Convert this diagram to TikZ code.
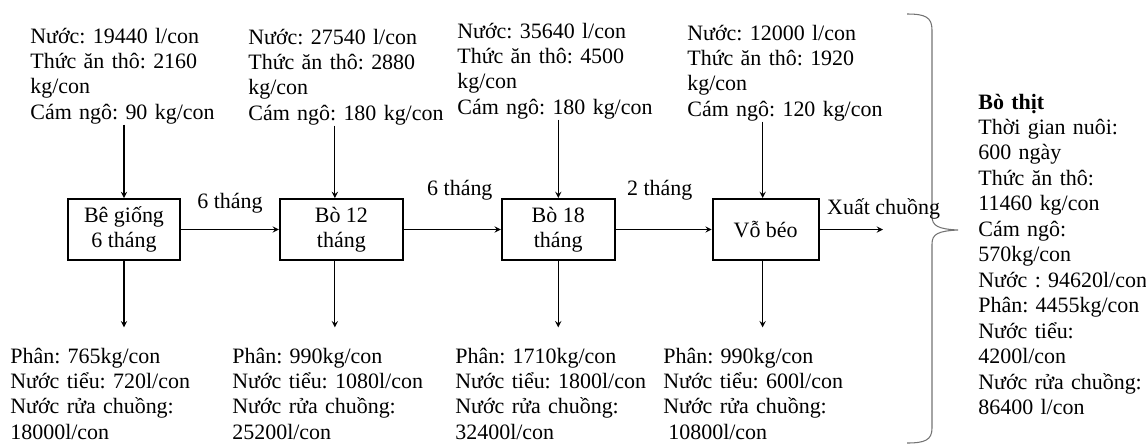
\documentclass[tikz,border=0pt]{standalone}
\usepackage{fontspec}
\setmainfont{Liberation Serif}
\frenchspacing
\usetikzlibrary{arrows.meta, positioning, calc}

\begin{document}
\begin{tikzpicture}[
        x=0.02cm, y=-0.02cm,
        >=stealth,
        node distance=1.95cm,
        every node/.style={font=\fontsize{12.5}{14.5}\selectfont},
        stage/.style={draw, line width=1.1pt, minimum height=1.22cm,
            align=center, inner sep=0pt},
        info/.style={text width=4.2cm, align=left, inner sep=0pt,
            anchor=base west},
        line/.style={draw, line width=0.6pt, ->},
        lbl/.style={inner sep=0pt},
    ]
    \useasboundingbox (0,0) rectangle (1146,447);

    % 1. Stages
    \node[stage, minimum width=2.24cm] at (124,229.5) (calf)
        {Bê giống\\6 tháng};
    \node[stage, minimum width=2.46cm, right=1.96cm of calf] (bo12)
        {Bò 12\\tháng};
    \node[stage, minimum width=2.26cm, right=1.94cm of bo12] (bo18)
        {Bò 18\\tháng};
    \node[stage, minimum width=2.12cm, right=1.92cm of bo18] (fatten)
        {Vỗ béo};
    \coordinate (exit) at (883,229.5);

    % 2. Inputs (top)
    \node[info] at (30,43) (in_calf)
        {Nước: 19440 l/con\\Thức ăn thô: 2160\\kg/con\\Cám ngô: 90 kg/con};
    \node[info] at (248,44) (in_bo12)
        {Nước: 27540 l/con\\Thức ăn thô: 2880\\kg/con\\Cám ngô: 180 kg/con};
    \node[info] at (457,38) (in_bo18)
        {Nước: 35640 l/con\\Thức ăn thô: 4500\\kg/con\\Cám ngô: 180 kg/con};
    \node[info] at (687,40) (in_fat)
        {Nước: 12000 l/con\\Thức ăn thô: 1920\\kg/con\\Cám ngô: 120 kg/con};

    % 3. Wastes (bottom)
    \node[info] at (10,363) (out_calf)
        {Phân: 765kg/con\\Nước tiểu: 720l/con\\Nước rửa chuồng:\\18000l/con};
    \node[info] at (232,363) (out_bo12)
        {Phân: 990kg/con\\Nước tiểu: 1080l/con\\Nước rửa chuồng:\\25200l/con};
    \node[info] at (455,363) (out_bo18)
        {Phân: 1710kg/con\\Nước tiểu: 1800l/con\\Nước rửa chuồng:\\32400l/con};
    \node[info] at (663,363) (out_fat)
        {Phân: 990kg/con\\Nước tiểu: 600l/con\\Nước rửa chuồng:\\\hspace*{1mm}10800l/con};

    % 4. Summary
    \node[info] at (978,109) (meat)
        {\textbf{Bò thịt}\\Thời gian nuôi:\\600 ngày\\Thức ăn thô:\\11460 kg/con\\Cám ngô:\\570kg/con\\Nước : 94620l/con\\Phân: 4455kg/con\\Nước tiểu:\\4200l/con\\Nước rửa chuồng:\\86400 l/con};
    \draw[black!55, line width=0.6pt]
        (907,14) .. controls (925,14) and (932,17) .. (932,30)
        -- (932,216) .. controls (932,226) and (938,229) .. (958,230)
        .. controls (938,231) and (932,234) .. (932,244)
        -- (932,428) .. controls (932,440) and (925,443) .. (907,443);

    % --- Arrows ---
    \path[line] (calf.north |- in_calf.south) -- (calf.north);
    \path[line] ([xshift=-0.13cm]bo12.north |- in_bo12.south) -- ([xshift=-0.13cm]bo12.north);
    \path[line] (bo18.north |- in_bo18.south) -- (bo18.north);
    \path[line] ([xshift=-0.06cm]fatten.north |- in_fat.south) -- ([xshift=-0.06cm]fatten.north);

    \path[line, shorten >=0.4cm] (calf.south) -- (calf.south |- out_calf.north);
    \path[line, shorten >=0.4cm] ([xshift=-0.13cm]bo12.south) -- ([xshift=-0.13cm]bo12.south |- out_bo12.north);
    \path[line, shorten >=0.4cm] (bo18.south) -- (bo18.south |- out_bo18.north);
    \path[line, shorten >=0.4cm] ([xshift=-0.06cm]fatten.south) -- ([xshift=-0.06cm]fatten.south |- out_fat.north);

    \path[line] (calf) -- (bo12)
        node[lbl, midway, above=0.31cm] {6 tháng};
    \path[line] (bo12) -- (bo18)
        node[lbl, midway, above=0.57cm, xshift=0.15cm] {6 tháng};
    \path[line] (bo18) -- (fatten)
        node[lbl, midway, above=0.57cm, xshift=-0.08cm] {2 tháng};
    \path[line] (fatten.east) -- (exit)
        node[lbl, pos=0, anchor=south west, xshift=0.14cm, yshift=0.19cm] {Xuất chuồng};

\end{tikzpicture}
\end{document}
